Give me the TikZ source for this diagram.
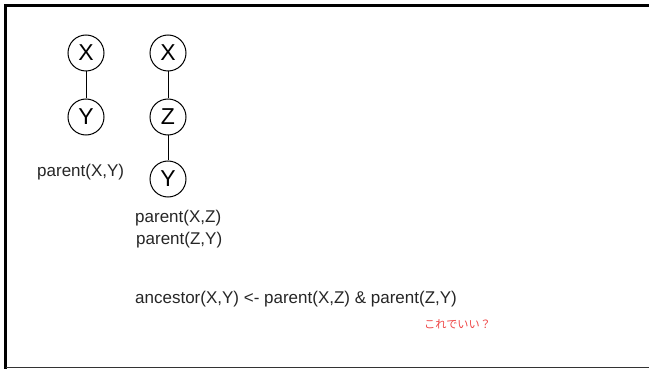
\documentclass[tikz,border=0pt]{standalone}
\usepackage{fontspec}
\setmainfont{Liberation Sans}
\newfontfamily\jpfont{Noto Sans CJK JP}
\begin{document}
\begin{tikzpicture}[x=1pt,y=-1pt,
  vnode/.style={circle,draw,line width=1pt,minimum size=36pt,inner sep=0pt,font=\fontsize{23}{23}\selectfont},
  edge/.style={line width=0.9pt},
  lbl/.style={anchor=west,inner sep=0pt,font=\fontsize{17}{18}\selectfont,text=black!85},
  note/.style={anchor=west,inner sep=0pt,font=\jpfont\fontsize{11.2}{12}\selectfont,text={rgb,255:red,238;green,70;blue,70}}]
\useasboundingbox (0,0) rectangle (649,369);
% slide frame (left, top and bottom edges)
\draw[line width=2.6pt] (5.5,369) -- (5.5,5.3) -- (649,5.3);
\draw[line width=1.2pt,black!80] (5.5,367.6) -- (649,367.6);
% parent(X,Y)
\node[vnode] (ax) at (86,53) {X};
\node[vnode] (ay) at (86,117) {Y};
\draw[edge] (ax) -- (ay);
\node[lbl] (pxy) at (37,172) {parent(X,Y)};
% parent(X,Z), parent(Z,Y)
\node[vnode] (bx) at (168,53) {X};
\node[vnode] (bz) at (168,117) {Z};
\node[vnode] (by) at (168,179) {Y};
\draw[edge] (bx) -- (bz);
\draw[edge] (bz) -- (by);
\node[lbl] (pxz) at (135,218) {parent(X,Z)};
\node[lbl] (pzy) at (136,240) {parent(Z,Y)};
% rule
\node[lbl] (rule) at (135,299) {ancestor(X,Y) <- parent(X,Z) \& parent(Z,Y)};
\node[note] (q) at (424,324) {これでいい？};
\end{tikzpicture}
\end{document}
